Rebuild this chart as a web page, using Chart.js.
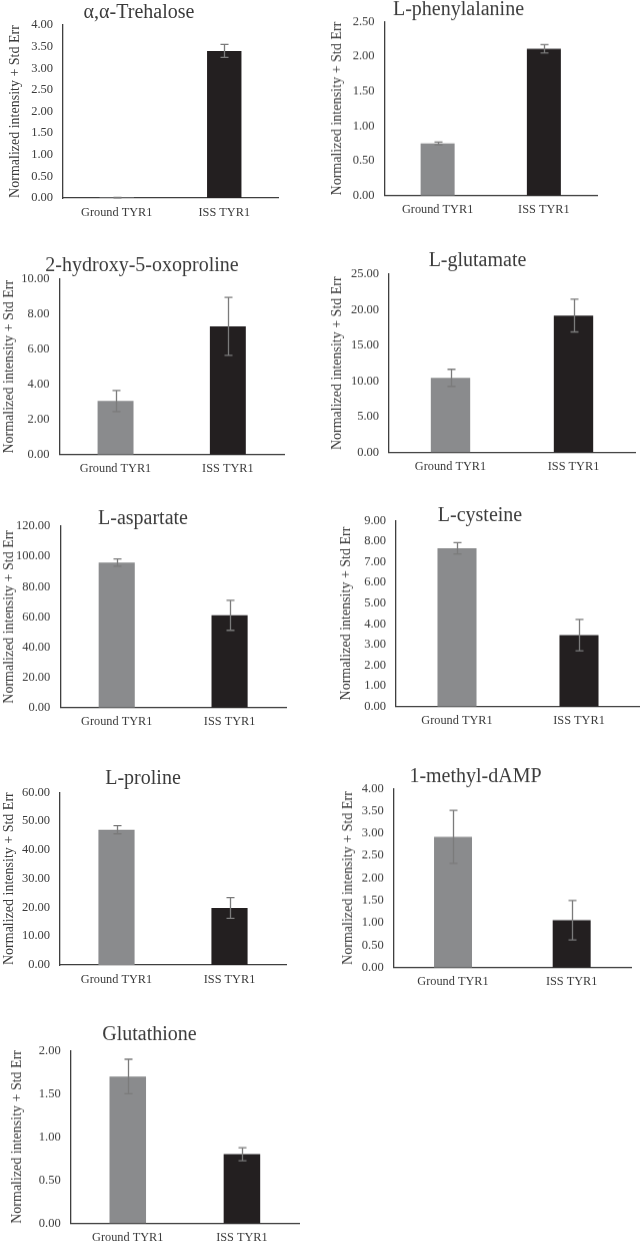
<!DOCTYPE html>
<html>
<head>
<meta charset="utf-8">
<script src="https://cdn.jsdelivr.net/npm/chart.js@4.4.1/dist/chart.umd.min.js"></script>
<style>
  html, body { margin: 0; padding: 0; background: #fff; }
  body { position: relative; width: 640px; height: 1247px; overflow: hidden; }
  .panel { position: absolute; }
</style>
</head>
<body>
<script>
// Chart data
const compounds = ['α,α-Trehalose', 'L-phenylalanine', '2-hydroxy-5-oxoproline', 'L-glutamate',
    'L-aspartate', 'L-cysteine', 'L-proline', '1-methyl-dAMP', 'Glutathione'];
const groups = ['Ground TYR1', 'ISS TYR1'];
const groundMean = [0.01, 0.75, 3.05, 10.45, 95.9, 7.66, 47.0, 2.92, 1.70];
const groundErr = [0.005, 0.02, 0.6, 1.2, 2.4, 0.27, 1.4, 0.59, 0.20];
const issMean = [3.40, 2.11, 7.30, 19.2, 61.0, 3.46, 19.8, 1.06, 0.80];
const issErr = [0.15, 0.06, 1.65, 2.3, 9.9, 0.76, 3.6, 0.44, 0.075];
const yMax = [4, 2.5, 10, 25, 120, 9, 60, 4, 2];
const yStep = [0.5, 0.5, 2, 5, 20, 1, 10, 0.5, 0.5];
const yTitle = 'Normalized intensity + Std Err';

// panel placement: left, title centre x/y, axis x, plot top, plot bottom, plot right, y-title x
const boxes = [
    [0, 175, 13, 63, 25, 198, 278, 15],
    [320, 508, 10.3, 384.5, 21.7, 195, 597, 337.7],
    [0, 184, 266.3, 59.4, 279, 454, 284, 9.5],
    [320, 509, 261.3, 389, 274.3, 451.7, 635, 337],
    [0, 178, 519, 60.3, 526, 706.7, 286, 9.5],
    [320, 515, 516.3, 396, 520.7, 706, 640, 346],
    [0, 165, 779, 60, 792.3, 965, 286, 9],
    [320, 523, 777, 393.7, 788.3, 966.7, 631, 348],
    [0, 161, 1035.3, 70.7, 1050.7, 1222.7, 299, 17.5]
];

const FONT = "'Liberation Serif', 'Times New Roman', serif";
const TEXT = '#3b3b3b';
const X_AXIS_H = 30;
const PAD_TOP = 20;

// draws the std err whiskers through the y scale
const errorBars = {
    id: 'errorBars',
    afterDatasetsDraw(chart, args, opts) {
        const ctx = chart.ctx;
        const y = chart.scales.y;
        const meta = chart.getDatasetMeta(0);
        ctx.save();
        ctx.strokeStyle = '#7b7b7b';
        ctx.lineWidth = 1.3;
        meta.data.forEach((bar, i) => {
            const v = opts.means[i], e = opts.errs[i];
            const top = y.getPixelForValue(v + e);
            const bot = y.getPixelForValue(v - e);
            const x = Math.round(bar.x) + 0.5;
            ctx.beginPath();
            ctx.moveTo(x, top); ctx.lineTo(x, bot);
            ctx.moveTo(x - 4, top); ctx.lineTo(x + 4, top);
            ctx.moveTo(x - 4, bot); ctx.lineTo(x + 4, bot);
            ctx.stroke();
        });
        ctx.restore();
    }
};

compounds.forEach((name, i) => {
    const [left, tcx, tcy, axisX, plotTop, plotBottom, plotRight, titleX] = boxes[i];
    const width = 2 * (tcx - left);
    const top = tcy - 4 - PAD_TOP;
    const height = plotBottom - top + X_AXIS_H;

    const div = document.createElement('div');
    div.className = 'panel';
    div.style.left = left + 'px';
    div.style.top = top + 'px';
    div.style.width = width + 'px';
    div.style.height = height + 'px';
    const canvas = document.createElement('canvas');
    div.appendChild(canvas);
    document.body.appendChild(div);

    const means = [groundMean[i], issMean[i]];
    const errs = [groundErr[i], issErr[i]];

    new Chart(canvas, {
        type: 'bar',
        data: {
            labels: groups,
            datasets: [{
                data: means,
                backgroundColor: ['#8a8b8d', '#231f20'],
                borderWidth: 0,
                barPercentage: 0.32,
                categoryPercentage: 1
            }]
        },
        options: {
            responsive: true,
            maintainAspectRatio: false,
            animation: false,
            layout: { padding: { top: PAD_TOP, left: 0, bottom: 0, right: left + width - plotRight } },
            plugins: {
                legend: { display: false },
                tooltip: { enabled: false },
                title: {
                    display: true,
                    text: name,
                    color: TEXT,
                    font: { family: FONT, size: 20, weight: 'normal', lineHeight: 0.4 },
                    padding: { top: 0, bottom: plotTop - tcy - 4 }
                },
                errorBars: { means: means, errs: errs }
            },
            scales: {
                x: {
                    grid: { display: false, drawTicks: false },
                    border: { display: true, color: '#3f3f3f', width: 1.3 },
                    ticks: { color: TEXT, padding: 7, font: { family: FONT, size: 12.3 } },
                    afterFit(scale) { scale.height = X_AXIS_H; }
                },
                y: {
                    min: 0,
                    max: yMax[i],
                    grid: { display: false, drawTicks: false },
                    border: { display: true, color: '#3f3f3f', width: 1.3 },
                    ticks: {
                        stepSize: yStep[i],
                        color: TEXT,
                        padding: 10,
                        font: { family: FONT, size: 12.5 },
                        callback: v => v.toFixed(2)
                    },
                    title: {
                        display: true,
                        text: yTitle,
                        color: TEXT,
                        font: { family: FONT, size: 14 },
                        padding: { top: titleX - left - 8.4, bottom: 0 }
                    },
                    afterFit(scale) { scale.width = axisX - left; }
                }
            }
        },
        plugins: [errorBars]
    });
});
</script>
</body>
</html>
